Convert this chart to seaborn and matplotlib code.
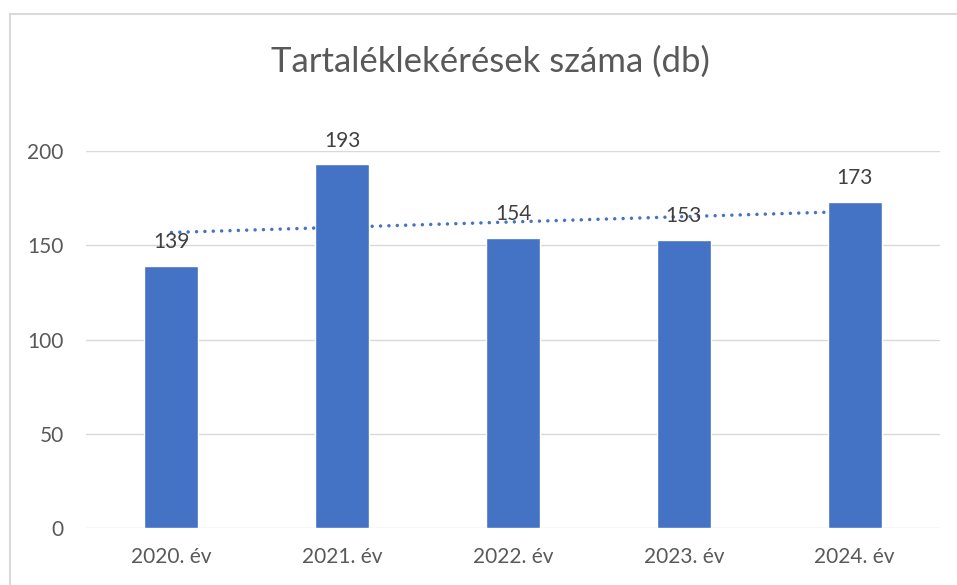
import matplotlib

matplotlib.use("Agg")

import matplotlib.pyplot as plt
import numpy as np
import pandas as pd
import seaborn as sns
from matplotlib.patches import Rectangle

years = ["2020. év", "2021. év", "2022. év", "2023. év", "2024. év"]
counts = [139, 193, 154, 153, 173]
y_ticks = [0, 50, 100, 150, 200]

BAR = "#4472C4"
GREY = "#595959"

sns.set_theme(style="white")
plt.rcParams["font.family"] = ["Lato", "DejaVu Sans"]

df = pd.DataFrame({"year": years, "count": counts})

fig = plt.figure(figsize=(9.57, 5.85), dpi=100)
ax = fig.add_axes([0.0899, 0.0974, 0.8924, 0.6444])

sns.barplot(data=df, x="year", y="count", color=BAR, width=0.316, saturation=1, ax=ax, zorder=2)

# linear trendline like Excel's
xs = np.arange(len(counts))
slope, intercept = np.polyfit(xs, counts, 1)
ax.plot(xs, slope * xs + intercept, color=BAR, linewidth=2.5,
        linestyle=(0, (0.01, 2.4)), dash_capstyle="round", zorder=3)

for i, v in enumerate(counts):
    ax.annotate(str(v), (i, v), xytext=(0, 17), textcoords="offset points",
                ha="center", va="center", fontsize=15, color="#404040",
                annotation_clip=False, zorder=4)

ax.set_xlim(-0.5, len(years) - 0.5)
ax.set_ylim(0, 200)
ax.set_yticks(y_ticks)
ax.set_xlabel("")
ax.set_ylabel("")
ax.grid(axis="y", color="#D9D9D9", linewidth=1.0, zorder=0)
ax.set_axisbelow(True)
for side in ["top", "right", "left", "bottom"]:
    ax.spines[side].set_visible(False)
ax.tick_params(axis="both", length=0, labelsize=15, labelcolor=GREY)
ax.tick_params(axis="y", pad=16)
ax.tick_params(axis="x", pad=14)

fig.text(0.512, 0.894, "Tartaléklekérések száma (db)", ha="center", va="center",
         fontsize=25, color=GREY)

# chart frame (only top and left edges fall inside the image)
fig.patches.append(Rectangle((10 / 957, -0.1), 1.2, (585 - 14) / 585 + 0.1,
                             transform=fig.transFigure, fill=False,
                             edgecolor="#D9D9D9", linewidth=1.5))

fig.savefig("out.png", dpi=100, facecolor="white")
